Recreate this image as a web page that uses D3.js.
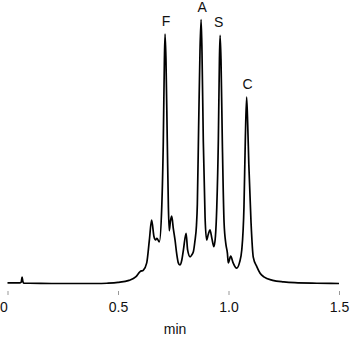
<!DOCTYPE html>
<html>
<head>
<meta charset="utf-8">
<script src="https://cdn.jsdelivr.net/npm/d3@7"></script>
<style>
	html, body { margin: 0; padding: 0; background: #fff; }
	svg { display: block; font-family: "Liberation Sans", Arial, sans-serif; }
</style>
</head>
<body>
<svg id="chart"></svg>
<script>
// retention time (min) and detector signal (relative, A = 100)
const time = [
	0.000, 0.055, 0.062, 0.066, 0.070, 0.075, 0.100, 0.200, 0.300, 0.400,
	0.450, 0.500, 0.550, 0.580, 0.600, 0.615, 0.630, 0.642, 0.652, 0.663,
	0.670, 0.676, 0.687, 0.698, 0.705, 0.710, 0.713, 0.717, 0.723, 0.728,
	0.732, 0.737, 0.743, 0.750, 0.758, 0.766, 0.773, 0.780, 0.789, 0.796,
	0.808, 0.815, 0.826, 0.835, 0.841, 0.848, 0.855, 0.859, 0.865, 0.871,
	0.876, 0.880, 0.886, 0.894, 0.901, 0.908, 0.916, 0.925, 0.934, 0.941,
	0.947, 0.954, 0.959, 0.962, 0.966, 0.972, 0.980, 0.988, 0.995, 0.999,
	1.010, 1.020, 1.037, 1.050, 1.060, 1.070, 1.076, 1.082, 1.087, 1.092,
	1.102, 1.112, 1.128, 1.143, 1.160, 1.200, 1.250, 1.300, 1.400, 1.500
];
const signal = [
	0.2, 0.2, 0.5, 2.4, 0.6, 0.1, 0.1, 0.0, 0.0, 0.0,
	0.1, 0.4, 1.2, 2.5, 4.5, 5.1, 7.8, 16.5, 24, 17.7,
	16.5, 17.1, 15.8, 29, 54, 85, 94.5, 85, 54, 29,
	20, 23.5, 25.5, 21, 16.5, 11, 7.8, 7, 9, 12.7,
	19, 12.7, 10.1, 11, 12, 16, 22, 30, 60, 88,
	100, 88, 54, 25, 16.5, 18.5, 20.3, 17, 14, 18,
	29, 54, 85, 94, 85, 54, 23, 15, 11.5, 7.8,
	10.4, 8, 5.8, 8, 12.7, 29, 54, 70.6, 60, 45,
	23, 10, 6.4, 3.9, 2.5, 1.2, 0.6, 0.3, 0.1, 0.0
];

const peakNames = ["F", "A", "S", "C"];
const peakTimes = [0.713, 0.876, 0.962, 1.082];
const peakHeights = [94.5, 100, 94, 70.6];

const tickValues = [0, 0.5, 1.0, 1.5];
const tickLabels = ["0", "0.5", "1.0", "1.5"];

const width = 350;
const height = 341;

const svg = d3.select("#chart")
	.attr("width", width)
	.attr("height", height);

const x = d3.scaleLinear().domain([0, 1.5]).range([7.5, 339]);
const y = d3.scaleLinear().domain([0, 100]).range([283.5, 19.5]);

// x axis, no domain line, short grey ticks
svg.append("g")
	.attr("transform", "translate(0,291)")
	.call(d3.axisBottom(x)
		.tickValues(tickValues)
		.tickFormat((d, i) => tickLabels[i])
		.tickSize(4)
		.tickPadding(7))
	.call(g => g.select(".domain").remove())
	.call(g => g.selectAll(".tick line").attr("stroke", "#999"))
	.call(g => g.selectAll(".tick text")
		.attr("fill", "#111")
		.attr("font-size", 14)
		.attr("font-family", "Liberation Sans, Arial, sans-serif")
		.attr("dx", (d, i) => i === 0 ? -4 : 0));

svg.append("text")
	.attr("x", 175)
	.attr("y", 334)
	.attr("text-anchor", "middle")
	.attr("font-size", 14)
	.attr("fill", "#111")
	.text("min");

// trace
const line = d3.line()
	.x((d, i) => x(time[i]))
	.y(d => y(d))
	.curve(d3.curveMonotoneX);

svg.append("path")
	.datum(signal)
	.attr("fill", "none")
	.attr("stroke", "#000")
	.attr("stroke-width", 1.7)
	.attr("stroke-linejoin", "round")
	.attr("d", line);

// peak labels
svg.append("g")
	.selectAll("text")
	.data(peakNames)
	.join("text")
	.attr("x", (d, i) => x(peakTimes[i]) + (i === 2 ? -1.5 : 1))
	.attr("y", (d, i) => y(peakHeights[i]) - 8)
	.attr("text-anchor", "middle")
	.attr("font-size", 14)
	.attr("fill", "#111")
	.text(d => d);
</script>
</body>
</html>
